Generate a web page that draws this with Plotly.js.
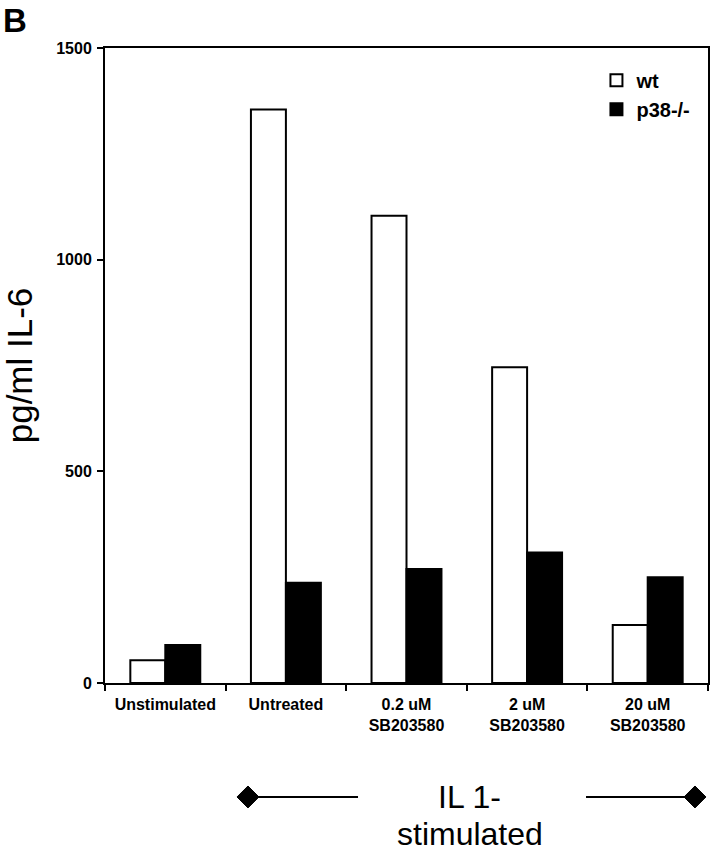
<!DOCTYPE html>
<html>
<head>
<meta charset="utf-8">
<script src="https://cdn.plot.ly/plotly-3.0.1.min.js"></script>
<style>
  body { margin: 0; background: #fff; }
  #plot { width: 715px; height: 853px; }
</style>
</head>
<body>
<div id="plot"></div>
<script>
// values (pg/ml IL-6)
var categories = ['Unstimulated', 'Untreated', '0.2 uM<br>SB203580', '2 uM<br>SB203580', '20 uM<br>SB203580'];
var wtValues = [54, 1355, 1104, 746, 137];
var p38Values = [90, 237, 269, 308, 250];
var yTicks = [0, 500, 1000, 1500];

var font = 'Liberation Sans, Arial, sans-serif';

var wt = {
    x: categories,
    y: wtValues,
    type: 'bar',
    name: '<b>wt</b>',
    marker: { color: '#ffffff', line: { color: '#000000', width: 2 } }
};

var p38 = {
    x: categories,
    y: p38Values,
    type: 'bar',
    name: '<b>p38-/-</b>',
    marker: { color: '#000000', line: { color: '#000000', width: 2 } }
};

// diamond helper in paper coordinates
function diamond(cx, cy, hx, hy) {
    return {
        type: 'path', xref: 'paper', yref: 'paper',
        path: 'M ' + (cx - hx) + ' ' + cy + ' L ' + cx + ' ' + (cy + hy) + ' L ' + (cx + hx) + ' ' + cy + ' L ' + cx + ' ' + (cy - hy) + ' Z',
        fillcolor: '#000', line: { color: '#000', width: 1 }
    };
}

var bracketY = -0.1795;

var layout = {
    width: 715,
    height: 853,
    margin: { l: 105, r: 7, t: 48, b: 170, autoexpand: false },
    paper_bgcolor: '#fff',
    plot_bgcolor: '#fff',
    font: { family: font, color: '#000' },
    barmode: 'group',
    bargap: 0.42,
    bargroupgap: 0,
    showlegend: true,
    legend: {
        x: 0.815, y: 0.98, xanchor: 'left', yanchor: 'top',
        font: { size: 20, family: font, color: '#000' },
        bgcolor: 'rgba(0,0,0,0)',
        itemwidth: 30,
        tracegroupgap: 0
    },
    xaxis: {
        type: 'category',
        showline: true, linecolor: '#000', linewidth: 2, mirror: true,
        ticks: 'outside', ticklen: 6, tickwidth: 2, tickcolor: '#000',
        tickson: 'boundaries',
        ticklabelstandoff: 6,
        tickfont: { size: 16, family: font, weight: 'bold' },
        showgrid: false, zeroline: false
    },
    yaxis: {
        range: [0, 1500],
        tickvals: yTicks,
        showline: true, linecolor: '#000', linewidth: 2, mirror: true,
        ticks: 'outside', ticklen: 6, tickwidth: 2, tickcolor: '#000',
        ticklabelstandoff: 2,
        tickfont: { size: 16, family: font, weight: 'bold' },
        showgrid: false, zeroline: false,
        title: { text: 'pg/ml IL-6', font: { size: 35, family: font }, standoff: 16 }
    },
    shapes: [
        { type: 'line', xref: 'paper', yref: 'paper', x0: 0.2371, x1: 0.4196, y0: bracketY, y1: bracketY, line: { color: '#000', width: 2 } },
        { type: 'line', xref: 'paper', yref: 'paper', x0: 0.7977, x1: 0.9784, y0: bracketY, y1: bracketY, line: { color: '#000', width: 2 } },
        diamond(0.2371, bracketY, 0.0182, 0.0173),
        diamond(0.9784, bracketY, 0.0182, 0.0173)
    ],
    annotations: [
        { text: '<b>B</b>', xref: 'paper', yref: 'paper', x: -0.172, y: 1.075, xanchor: 'left', yanchor: 'top',
          showarrow: false, font: { size: 33, family: font } },
        { text: 'IL 1-', xref: 'paper', yref: 'paper', x: 0.605, y: bracketY, xanchor: 'center', yanchor: 'middle',
          showarrow: false, font: { size: 32, family: font } },
        { text: 'stimulated', xref: 'paper', yref: 'paper', x: 0.605, y: -0.238, xanchor: 'center', yanchor: 'middle',
          showarrow: false, font: { size: 32, family: font } }
    ]
};

Plotly.newPlot('plot', [wt, p38], layout, { staticPlot: true });
</script>
</body>
</html>
